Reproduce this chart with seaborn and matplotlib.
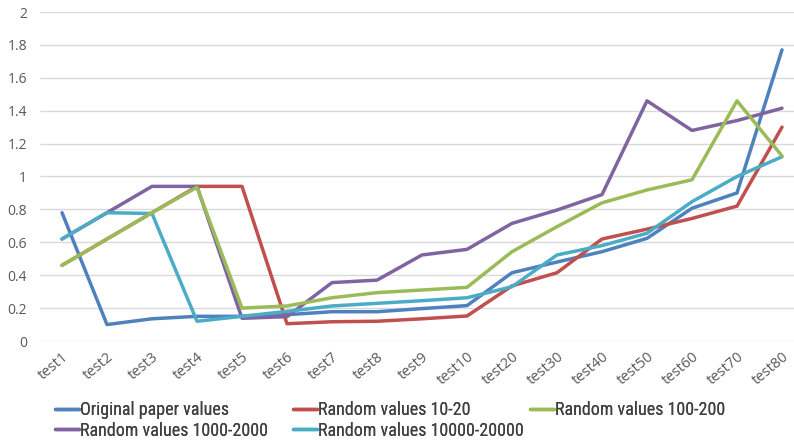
import matplotlib
matplotlib.use("Agg")
import matplotlib.pyplot as plt
from matplotlib import font_manager
from matplotlib.ticker import FuncFormatter, MultipleLocator
import seaborn as sns
import pandas as pd

categories = ["test1", "test2", "test3", "test4", "test5", "test6", "test7", "test8", "test9",
              "test10", "test20", "test30", "test40", "test50", "test60", "test70", "test80"]

original_paper = [0.78, 0.10, 0.135, 0.15, 0.15, 0.16, 0.178, 0.178, 0.197, 0.215, 0.415,
                  0.48, 0.543, 0.624, 0.807, 0.90, 1.77]
random_10_20 = [0.46, 0.62, 0.78, 0.94, 0.94, 0.105, 0.117, 0.12, 0.135, 0.152, 0.335,
                0.415, 0.62, 0.68, 0.745, 0.82, 1.30]
random_100_200 = [0.46, 0.62, 0.78, 0.935, 0.20, 0.213, 0.263, 0.294, 0.31, 0.326, 0.543,
                  0.695, 0.84, 0.918, 0.98, 1.46, 1.125]
random_1000_2000 = [0.62, 0.78, 0.94, 0.94, 0.138, 0.148, 0.355, 0.37, 0.523, 0.557, 0.715,
                    0.796, 0.89, 1.46, 1.28, 1.34, 1.415]
random_10000_20000 = [0.62, 0.78, 0.775, 0.12, 0.15, 0.18, 0.213, 0.229, 0.245, 0.263, 0.33,
                      0.523, 0.58, 0.655, 0.847, 1.0, 1.12]

series = {
    "Original paper values": original_paper,
    "Random values 10-20": random_10_20,
    "Random values 100-200": random_100_200,
    "Random values 1000-2000": random_1000_2000,
    "Random values 10000-20000": random_10000_20000,
}
colors = ["#4F81BD", "#C0504D", "#9BBB59", "#8064A2", "#4BACC6"]

df = pd.concat(
    [pd.DataFrame({"test": categories, "value": vals, "series": name}) for name, vals in series.items()],
    ignore_index=True,
)

sns.set_theme(style="white")
plt.rcParams["font.family"] = ["Open Sans", "DejaVu Sans"]

# prefer a condensed face for the legend when one is available
installed = {f.name for f in font_manager.fontManager.ttflist}
legend_font = next((n for n in ["Liberation Sans Narrow", "Roboto Condensed", "Open Sans Condensed"]
                    if n in installed), "Lato")
legend_size = 13 if legend_font != "Lato" else 11

W, H = 794, 444
fig = plt.figure(figsize=(W / 100, H / 100), dpi=100)
ax = fig.add_axes([39.5 / W, 103 / H, 765 / W, 329 / H])

sns.lineplot(data=df, x="test", y="value", hue="series", palette=colors, sort=False,
             linewidth=2.5, ax=ax, legend=True)

# draw the green series above the red where they overlap
order_z = {"Original paper values": 2, "Random values 10-20": 2.1, "Random values 100-200": 2.4,
           "Random values 1000-2000": 2.2, "Random values 10000-20000": 2.3}
for line, name in zip(ax.get_lines(), series.keys()):
    line.set_zorder(order_z[name])

ax.set_ylim(0, 2)
ax.set_xlim(-0.5, len(categories) - 0.5)
ax.yaxis.set_major_locator(MultipleLocator(0.2))
ax.yaxis.set_major_formatter(FuncFormatter(lambda v, p: f"{v:g}"))
ax.grid(axis="y", color="#D9D9D9", linewidth=1.0)
ax.set_axisbelow(True)
for s in ax.spines.values():
    s.set_visible(False)
ax.set_xlabel("")
ax.set_ylabel("")
ax.tick_params(axis="both", length=0, labelsize=10, colors="#595959")
ax.tick_params(axis="y", pad=9)
ax.tick_params(axis="x", pad=6)
plt.setp(ax.get_xticklabels(), rotation=40, ha="right", rotation_mode="anchor")
for lbl in ax.get_xticklabels():
    lbl.set_fontsize(10.5)

# legend laid out as three evenly spaced columns below the plot
handles, labels = ax.get_legend_handles_labels()
ax.get_legend().remove()
lookup = dict(zip(labels, handles))
columns = [
    (55, ["Original paper values", "Random values 1000-2000"]),
    (293, ["Random values 10-20", "Random values 10000-20000"]),
    (530, ["Random values 100-200"]),
]
for x0, names in columns:
    leg = fig.legend([lookup[n] for n in names], names, loc="upper left",
                     bbox_to_anchor=(x0 / W, 1 - 401 / H), frameon=False,
                     borderpad=0, borderaxespad=0,
                     prop={"family": [legend_font, "DejaVu Sans"], "size": legend_size},
                     handlelength=1.35, handletextpad=0.05, labelspacing=0.15,
                     labelcolor="#404040")
    fig.add_artist(leg)

fig.savefig("out.png", dpi=100)
